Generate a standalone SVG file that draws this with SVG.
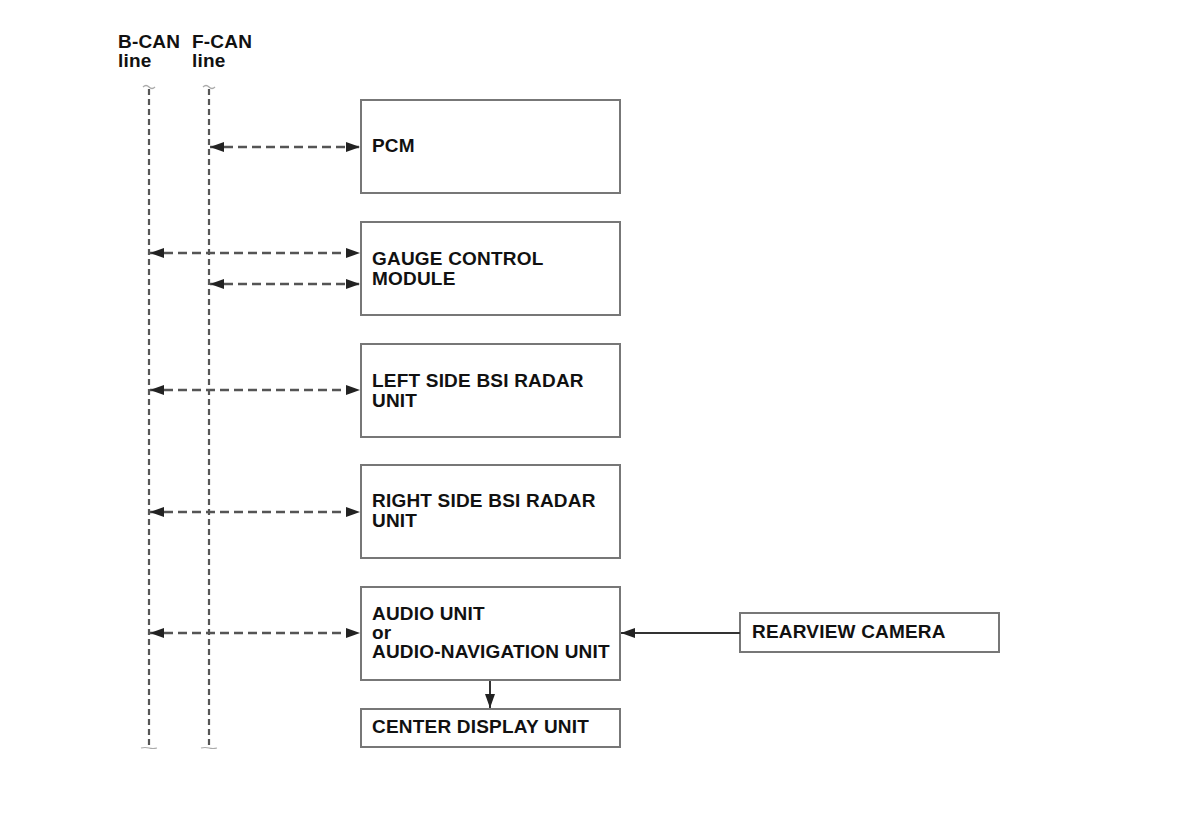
<svg xmlns="http://www.w3.org/2000/svg" width="1200" height="828" viewBox="0 0 1200 828">
<defs>
<style>
.box{fill:#fff;stroke:#777;stroke-width:2}
.t{font-family:"Liberation Sans",Arial,sans-serif;font-weight:bold;font-size:19px;letter-spacing:0.2px;fill:#111}
.bus{stroke:#555;stroke-width:2.2;stroke-dasharray:6,4;fill:none}
.dl{stroke:#555;stroke-width:2.4;stroke-dasharray:9,5;fill:none}
.sl{stroke:#333;stroke-width:2;fill:none}
.end{stroke:#aaa;stroke-width:1.2;fill:none}
</style>
<marker id="ah" viewBox="0 0 14 10" refX="14" refY="5" markerWidth="14" markerHeight="10" markerUnits="userSpaceOnUse" orient="auto-start-reverse">
<path d="M0,0 L14,5 L0,10 Z" fill="#222"/>
</marker>
</defs>
<rect width="1200" height="828" fill="#fff"/>
<g id="bus-labels">
<text class="t" x="118" y="48">B-CAN</text>
<text class="t" x="118" y="67">line</text>
<text class="t" x="192" y="48">F-CAN</text>
<text class="t" x="192" y="67">line</text>
</g>
<g id="buses">
<line class="bus" x1="149" y1="89" x2="149" y2="746"/>
<line class="bus" x1="209" y1="89" x2="209" y2="746"/>
<path class="end" d="M143,87 q3,-3 6,0 q3,3 6,0"/>
<path class="end" d="M203,87 q3,-3 6,0 q3,3 6,0"/>
<path class="end" d="M141,748 q4,-1 8,0 q4,1 8,0"/>
<path class="end" d="M201,748 q4,-1 8,0 q4,1 8,0"/>
</g>
<g id="pcm">
<rect class="box" x="361" y="100" width="259" height="93"/>
<text class="t" x="372" y="152">PCM</text>
</g>
<g id="gauge">
<rect class="box" x="361" y="222" width="259" height="93"/>
<text class="t" x="372" y="265">GAUGE CONTROL</text>
<text class="t" x="372" y="285">MODULE</text>
</g>
<g id="left-bsi">
<rect class="box" x="361" y="344" width="259" height="93"/>
<text class="t" x="372" y="387">LEFT SIDE BSI RADAR</text>
<text class="t" x="372" y="407">UNIT</text>
</g>
<g id="right-bsi">
<rect class="box" x="361" y="465" width="259" height="93"/>
<text class="t" x="372" y="507">RIGHT SIDE BSI RADAR</text>
<text class="t" x="372" y="527">UNIT</text>
</g>
<g id="audio">
<rect class="box" x="361" y="587" width="259" height="93"/>
<text class="t" x="372" y="620">AUDIO UNIT</text>
<text class="t" x="372" y="639">or</text>
<text class="t" x="372" y="658">AUDIO-NAVIGATION UNIT</text>
</g>
<g id="center-display">
<rect class="box" x="361" y="709" width="259" height="38"/>
<text class="t" x="372" y="733">CENTER DISPLAY UNIT</text>
</g>
<g id="rearview-camera">
<rect class="box" x="740" y="613" width="259" height="39"/>
<text class="t" x="752" y="638">REARVIEW CAMERA</text>
</g>
<g id="connectors">
<line class="dl" x1="210" y1="147" x2="360" y2="147" marker-start="url(#ah)" marker-end="url(#ah)"/>
<line class="dl" x1="150" y1="253" x2="360" y2="253" marker-start="url(#ah)" marker-end="url(#ah)"/>
<line class="dl" x1="210" y1="284" x2="360" y2="284" marker-start="url(#ah)" marker-end="url(#ah)"/>
<line class="dl" x1="150" y1="390" x2="360" y2="390" marker-start="url(#ah)" marker-end="url(#ah)"/>
<line class="dl" x1="150" y1="512" x2="360" y2="512" marker-start="url(#ah)" marker-end="url(#ah)"/>
<line class="dl" x1="150" y1="633" x2="360" y2="633" marker-start="url(#ah)" marker-end="url(#ah)"/>
<line class="sl" x1="740" y1="633" x2="621" y2="633" marker-end="url(#ah)"/>
<line class="sl" x1="490" y1="681" x2="490" y2="708" marker-end="url(#ah)"/>
</g>
</svg>
